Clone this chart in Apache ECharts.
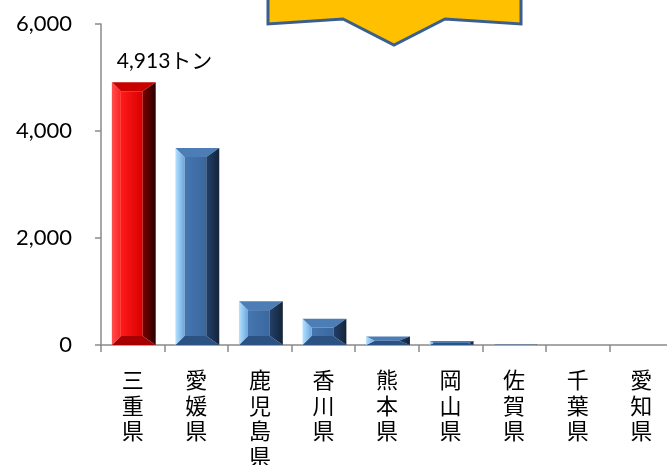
<!DOCTYPE html>
<html>
<head>
<meta charset="utf-8">
<script src="https://cdn.jsdelivr.net/npm/echarts@6/dist/echarts.min.js"></script>
<style>html,body{margin:0;padding:0;background:#fff;}#c{width:667px;height:465px;}</style>
</head>
<body>
<div id="c"></div>
<script>
const categories = ['三重県','愛媛県','鹿児島県','香川県','熊本県','岡山県','佐賀県','千葉県','愛知県'];
const values = [4913, 3680, 820, 490, 160, 75, 8, 4, 1];
const highlight = [true, false, false, false, false, false, false, false, false];
const yTicks = [0, 2000, 4000, 6000];
const unit = 'トン';

const chart = echarts.init(document.getElementById('c'), null, {renderer: 'canvas'});
const numFont = "Lato, 'Noto Sans CJK JP', sans-serif";
const jpFont = "'Noto Sans CJK JP', sans-serif";

const palettes = {
  red: {
    center: new echarts.graphic.LinearGradient(0,0,1,0,[{offset:0,color:'#ff1a1a'},{offset:1,color:'#d80000'}]),
    top: '#c80000',
    left: new echarts.graphic.LinearGradient(0,0,1,0,[{offset:0,color:'#ff5050'},{offset:1,color:'#ff2020'}]),
    right: new echarts.graphic.LinearGradient(0,0,1,0,[{offset:0,color:'#7a0000'},{offset:1,color:'#2a0000'}]),
    bottom: '#a80000'
  },
  blue: {
    center: new echarts.graphic.LinearGradient(0,0,1,0,[{offset:0,color:'#4676b0'},{offset:1,color:'#3a679e'}]),
    top: '#4d7db5',
    left: new echarts.graphic.LinearGradient(0,0,1,0,[{offset:0,color:'#b5e2ff'},{offset:1,color:'#6aa6dc'}]),
    right: new echarts.graphic.LinearGradient(0,0,1,0,[{offset:0,color:'#23406a'},{offset:1,color:'#142438'}]),
    bottom: '#2c5283'
  }
};

function fmt(v){ return v.toString().replace(/\B(?=(\d{3})+(?!\d))/g, ','); }

function renderItem(params, api) {
  const i = api.value(0), v = api.value(1);
  const top = api.coord([i, v]);
  const base = api.coord([i, 0]);
  const bw = api.size([1, 0])[0] * 0.69;
  const x0 = top[0] - bw / 2 + 1, x1 = top[0] + bw / 2 + 1;
  const y0 = top[1], y1 = base[1];
  const h = y1 - y0;
  if (h <= 0.3) return null;
  const bt = Math.min(9, h / 2);
  const bl = Math.min(9, Math.max(h, 2));
  const br = Math.min(13, Math.max(h * 1.3, 2));
  const p = highlight[i] ? palettes.red : palettes.blue;
  const children = [
    {type:'polygon', shape:{points:[[x0+bl,y0+bt],[x1-br,y0+bt],[x1-br,y1-bt],[x0+bl,y1-bt]]}, style:{fill:p.center}},
    {type:'polygon', shape:{points:[[x0,y0],[x1,y0],[x1-br,y0+bt],[x0+bl,y0+bt]]}, style:{fill:p.top}},
    {type:'polygon', shape:{points:[[x0,y1],[x0+bl,y1-bt],[x1-br,y1-bt],[x1,y1]]}, style:{fill:p.bottom}},
    {type:'polygon', shape:{points:[[x0,y0],[x0+bl,y0+bt],[x0+bl,y1-bt],[x0,y1]]}, style:{fill:p.left}},
    {type:'polygon', shape:{points:[[x1,y0],[x1,y1],[x1-br,y1-bt],[x1-br,y0+bt]]}, style:{fill:p.right}}
  ];
  if (highlight[i]) {
    children.push({type:'text', style:{text: fmt(v) + unit, x: x0 + 5, y: y0 - 21, fill:'#000', font: "21px " + numFont, textAlign:'left', textVerticalAlign:'middle'}});
  }
  return {type:'group', children};
}

chart.setOption({
  animation: false,
  backgroundColor: '#fff',
  grid: {left: 101, right: -6, top: 24, bottom: 120, containLabel: false, outerBoundsMode: 'none'},
  xAxis: {
    type: 'category',
    data: categories,
    boundaryGap: true,
    axisLine: {show: true, lineStyle: {color: '#8a8a8a', width: 1.5}},
    axisTick: {show: true, alignWithLabel: false, length: 7, lineStyle: {color: '#8a8a8a', width: 1.5}},
    axisLabel: {
      interval: 0, margin: 22, color: '#000', fontSize: 22, lineHeight: 25.5,
      fontFamily: jpFont, verticalAlign: 'top',
      formatter: s => s.split('').join('\n')
    }
  },
  yAxis: {
    type: 'value', min: yTicks[0], max: yTicks[yTicks.length-1], interval: 2000,
    axisLine: {show: true, lineStyle: {color: '#8a8a8a', width: 1.5}},
    axisTick: {show: true, length: 6, lineStyle: {color: '#8a8a8a', width: 1.5}},
    splitLine: {show: false},
    axisLabel: {color: '#000', fontSize: 22, fontFamily: numFont, margin: 29, formatter: v => fmt(v)}
  },
  series: [{
    type: 'custom',
    renderItem: renderItem,
    encode: {x: 0, y: 1},
    data: values.map((v, i) => [i, v]),
    clip: false
  }],
  graphic: [{
    type: 'polygon',
    shape: {points: [[268,-5],[521,-5],[521,24],[445,19],[394,45],[343,19],[268,24]]},
    style: {fill: '#ffc000', stroke: '#3a5f8f', lineWidth: 3},
    z: 10
  }]
});
</script>
</body>
</html>
